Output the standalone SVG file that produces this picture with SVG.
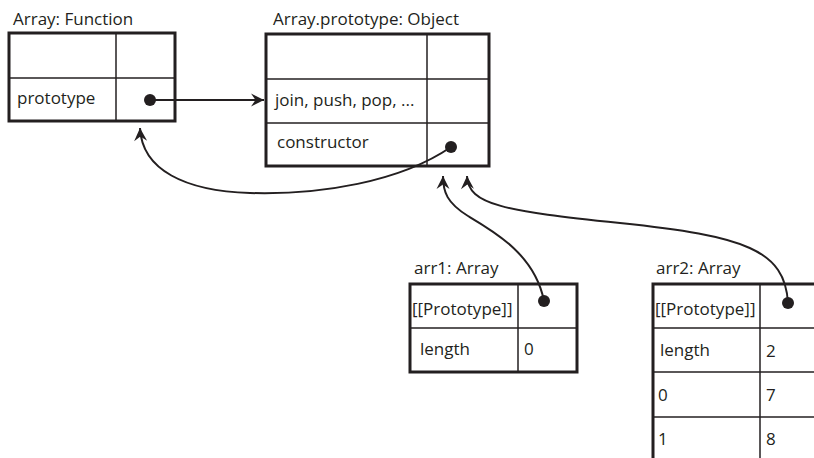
<svg xmlns="http://www.w3.org/2000/svg" width="814" height="458" viewBox="0 0 814 458">
<defs>
<style>
text{font-family:"Open Sans","Liberation Sans",Arial,sans-serif;font-size:17px;fill:#231f20}
.outer{fill:#fff;stroke:#231f20;stroke-width:3}
.inner{fill:none;stroke:#231f20;stroke-width:1.5}
.conn{fill:none;stroke:#231f20;stroke-width:2}
.dot{fill:#231f20}
</style>
<marker id="arr" viewBox="-14 -8 16 16" markerWidth="16" markerHeight="16" refX="0" refY="0" orient="auto" markerUnits="userSpaceOnUse">
<path d="M0,0 L-13,-6.5 L-8.5,0 L-13,6.5 Z" fill="#231f20"/>
</marker>
</defs>
<rect width="814" height="458" fill="#fff"/>

<g id="array-function">
<text x="13" y="25">Array: Function</text>
<rect class="outer" x="9" y="33" width="166" height="88"/>
<line class="inner" x1="9" y1="78" x2="175" y2="78"/>
<line class="inner" x1="116" y1="33" x2="116" y2="121"/>
<text x="17" y="104">prototype</text>
<circle class="dot" cx="150" cy="100" r="6"/>
</g>

<g id="array-prototype">
<text x="273" y="25">Array.prototype: Object</text>
<rect class="outer" x="266" y="34" width="223" height="132"/>
<line class="inner" x1="266" y1="79" x2="489" y2="79"/>
<line class="inner" x1="266" y1="123" x2="489" y2="123"/>
<line class="inner" x1="427" y1="34" x2="427" y2="166"/>
<text x="275" y="106">join, push, pop, ...</text>
<text x="277" y="148">constructor</text>
<circle class="dot" cx="451" cy="147" r="6"/>
</g>

<g id="arr1">
<text x="414" y="274">arr1: Array</text>
<rect class="outer" x="410" y="284" width="167" height="88"/>
<line class="inner" x1="410" y1="328" x2="577" y2="328"/>
<line class="inner" x1="518" y1="284" x2="518" y2="372"/>
<text x="412" y="315">[[Prototype]]</text>
<text x="420" y="355">length</text>
<text x="524" y="355">0</text>
<circle class="dot" cx="544" cy="301" r="6"/>
</g>

<g id="arr2">
<text x="656" y="274">arr2: Array</text>
<rect class="outer" x="653" y="284" width="180" height="190"/>
<line class="inner" x1="653" y1="328" x2="833" y2="328"/>
<line class="inner" x1="653" y1="372" x2="833" y2="372"/>
<line class="inner" x1="653" y1="417" x2="833" y2="417"/>
<line class="inner" x1="760" y1="284" x2="760" y2="474"/>
<text x="655" y="315">[[Prototype]]</text>
<text x="660" y="356">length</text>
<text x="766" y="357">2</text>
<text x="658" y="401">0</text>
<text x="766" y="401">7</text>
<text x="658" y="445">1</text>
<text x="766" y="445">8</text>
<circle class="dot" cx="788" cy="303" r="6"/>
</g>

<g id="connectors">
<path class="conn" d="M150,100 L264,100" marker-end="url(#arr)"/>
<path class="conn" d="M451,147 C400,182 320,195 250,193 C185,191 142,170 140,128" marker-end="url(#arr)"/>
<path class="conn" d="M544,301 C535,255 495,232 468,216 C447,203 443,192 443,176" marker-end="url(#arr)"/>
<path class="conn" d="M788,303 C785,250 745,236 620,223 C505,211 468,205 467,176" marker-end="url(#arr)"/>
</g>
</svg>
